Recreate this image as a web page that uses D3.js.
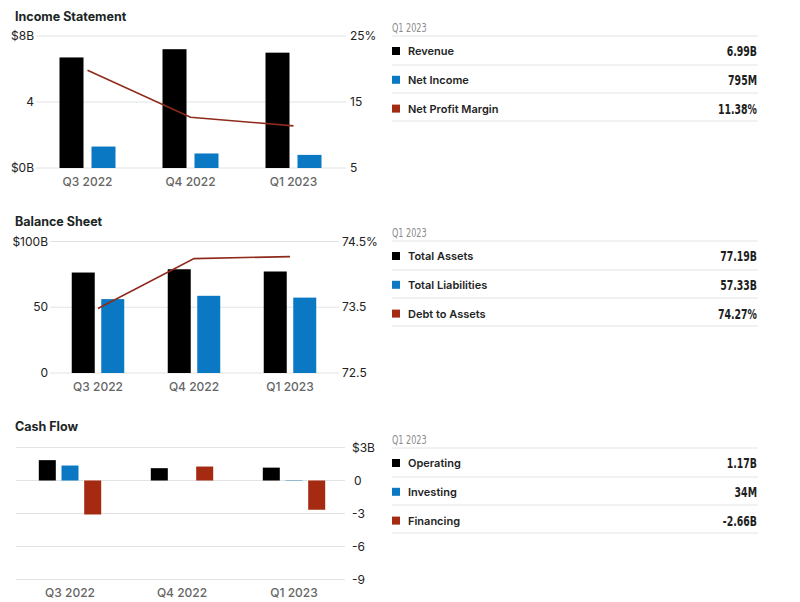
<!DOCTYPE html>
<html><head><meta charset="utf-8">
<script src="https://cdn.jsdelivr.net/npm/d3@7"></script>
<style>
body{margin:0;background:#fff;}
svg{display:block;font-family:Inter,"Liberation Sans",Arial,sans-serif;}
</style></head>
<body><svg id="c" width="800" height="602"></svg>
<script>
const quarters = ["Q3 2022","Q4 2022","Q1 2023"];
// Income statement ($B, %)
const revenue = [6.7, 7.2, 6.99];
const netIncome = [1.3, 0.88, 0.795];
const netProfitMargin = [19.8, 12.7, 11.38];
const incomeLeftTicks = [0,4,8], incomeRightTicks = [5,15,25];
// Balance sheet ($B, %)
const totalAssets = [76.4, 78.9, 77.19];
const totalLiabilities = [56.2, 58.7, 57.33];
const debtToAssets = [73.48, 74.24, 74.27];
const balanceLeftTicks = [0,50,100], balanceRightTicks = [72.5,73.5,74.5];
// Cash flow ($B)
const operating = [1.85, 1.12, 1.17];
const investing = [1.36, 0.0, 0.034];
const financing = [-3.09, 1.27, -2.66];
const cashTicks = [-9,-6,-3,0,3];
// Legend tables (Q1 2023)
const tableHeader = "Q1 2023";
const incomeLegend = [["Revenue","6.99B"],["Net Income","795M"],["Net Profit Margin","11.38%"]];
const balanceLegend = [["Total Assets","77.19B"],["Total Liabilities","57.33B"],["Debt to Assets","74.27%"]];
const cashLegend = [["Operating","1.17B"],["Investing","34M"],["Financing","-2.66B"]];

const C = {black:"#000000", blue:"#0a78c2", red:"#a52a12", line:"#8e2b1c", grid:"#e3e3e3"};
const svg = d3.select("#c");
const narrow = '"DejaVu Sans Condensed","DejaVu Sans",sans-serif';

function title(t, y){
  svg.append("text").attr("x",15).attr("y",y).text(t)
    .attr("font-size",12.5).attr("font-weight",700).attr("fill","#1b2626");
}

function legend(rows, top){
  const g = svg.append("g");
  const x0 = 392, x1 = 758;
  g.append("text").attr("transform",`translate(${x0},${top}) scale(0.72,1)`).text(tableHeader)
    .attr("font-family",narrow).attr("font-size",12.5).attr("fill","#8a8a8a");
  const lineYs = [top+4, top+33, top+61, top+89];
  lineYs.forEach(y=>g.append("line").attr("x1",x0).attr("x2",x1).attr("y1",y).attr("y2",y)
    .attr("stroke","#e3e3e3").attr("stroke-width",1));
  const cols=[C.black,C.blue,C.red];
  rows.forEach((r,i)=>{
    const cy = top + 19 + i*28.8;
    g.append("rect").attr("x",392).attr("y",cy-4).attr("width",8).attr("height",8).attr("fill",cols[i]);
    g.append("text").attr("x",408).attr("y",cy+4).text(r[0])
      .attr("font-size",11).attr("font-weight",600).attr("fill","#1e2424");
    g.append("text").attr("transform",`translate(757,${cy+5}) scale(0.72,1)`).attr("text-anchor","end").text(r[1])
      .attr("font-family",narrow).attr("font-size",14.5).attr("font-weight",600).attr("fill","#1e1e1e");
  });
}

function catAxis(x, y){
  svg.append("g").selectAll("text").data(quarters).join("text")
    .attr("x",d=>x(d)+x.bandwidth()/2).attr("y",y).attr("text-anchor","middle")
    .text(d=>d).attr("font-size",12).attr("font-weight",500).attr("fill","#666");
}

function grid(ys, x1, x2){
  svg.append("g").selectAll("line").data(ys).join("line")
    .attr("x1",x1).attr("x2",x2).attr("y1",d=>d).attr("y2",d=>d)
    .attr("stroke",C.grid).attr("stroke-width",1.2);
}

// ---------- Income statement ----------
title("Income Statement", 21);
{
  const x = d3.scaleBand().domain(quarters).range([36,345]);
  const y = d3.scaleLinear().domain([0,8]).range([168,36]);
  const y2 = d3.scaleLinear().domain([5,25]).range([168,36]);
  grid(incomeLeftTicks.map(y), 36, 346);
  svg.append("g").selectAll("text").data(incomeLeftTicks).join("text")
    .attr("x",34).attr("y",d=>y(d)+4).attr("text-anchor","end")
    .text(d=>d===0?"$0B":d===8?"$8B":d).attr("font-size",12).attr("fill","#222");
  svg.append("g").selectAll("text").data(incomeRightTicks).join("text")
    .attr("x",350).attr("y",d=>y2(d)+4)
    .text(d=>d===25?"25%":d).attr("font-size",12).attr("fill","#222");
  const bw=24, gap=8;
  [[revenue,C.black],[netIncome,C.blue]].forEach(([vals,col],k)=>{
    svg.append("g").selectAll("rect").data(vals).join("rect")
      .attr("x",(d,i)=>x(quarters[i])+x.bandwidth()/2 + (k===0?-(bw+gap/2):gap/2))
      .attr("width",bw).attr("y",d=>y(d)).attr("height",d=>y(0)-y(d)).attr("fill",col);
  });
  svg.append("path").datum(netProfitMargin)
    .attr("d",d3.line().x((d,i)=>x(quarters[i])+x.bandwidth()/2).y(d=>y2(d)))
    .attr("fill","none").attr("stroke",C.line).attr("stroke-width",1.6);
  catAxis(x, 186);
}
legend(incomeLegend, 32);

// ---------- Balance sheet ----------
title("Balance Sheet", 226);
{
  const x = d3.scaleBand().domain(quarters).range([50,338]);
  const y = d3.scaleLinear().domain([0,100]).range([373,241.5]);
  const y2 = d3.scaleLinear().domain([72.5,74.5]).range([373,241.5]);
  grid(balanceLeftTicks.map(y), 50, 339);
  svg.append("g").selectAll("text").data(balanceLeftTicks).join("text")
    .attr("x",48).attr("y",d=>y(d)+4).attr("text-anchor","end")
    .text(d=>d===100?"$100B":d).attr("font-size",12).attr("fill","#222");
  svg.append("g").selectAll("text").data(balanceRightTicks).join("text")
    .attr("x",342).attr("y",d=>y2(d)+4)
    .text(d=>d===74.5?"74.5%":d).attr("font-size",12).attr("fill","#222");
  const bw=23, gap=6.5;
  [[totalAssets,C.black],[totalLiabilities,C.blue]].forEach(([vals,col],k)=>{
    svg.append("g").selectAll("rect").data(vals).join("rect")
      .attr("x",(d,i)=>x(quarters[i])+x.bandwidth()/2 + (k===0?-(bw+gap/2):gap/2))
      .attr("width",bw).attr("y",d=>y(d)).attr("height",d=>y(0)-y(d)).attr("fill",col);
  });
  svg.append("path").datum(debtToAssets)
    .attr("d",d3.line().x((d,i)=>x(quarters[i])+x.bandwidth()/2).y(d=>y2(d)))
    .attr("fill","none").attr("stroke",C.line).attr("stroke-width",1.6);
  catAxis(x, 391);
}
legend(balanceLegend, 237);

// ---------- Cash flow ----------
title("Cash Flow", 431);
{
  const x = d3.scaleBand().domain(quarters).range([14,350]);
  const y = d3.scaleLinear().domain([-9,3]).range([579.5,447.5]);
  grid(cashTicks.map(y), 16, 345);
  svg.append("g").selectAll("text").data(cashTicks).join("text")
    .attr("x",d=>d===0?354:352).attr("y",d=>y(d)+4)
    .text(d=>d===3?"$3B":d).attr("font-size",12).attr("fill","#222");
  const bw=17, step=22.7;
  [[operating,C.black],[investing,C.blue],[financing,C.red]].forEach(([vals,col],k)=>{
    svg.append("g").selectAll("rect").data(vals).join("rect")
      .attr("x",(d,i)=>x(quarters[i])+x.bandwidth()/2 + (k-1)*step - bw/2)
      .attr("width",bw).attr("y",d=>y(Math.max(0,d))).attr("height",d=>Math.abs(y(d)-y(0)))
      .attr("fill",col);
  });
  catAxis(x, 597);
}
legend(cashLegend, 444);
</script></body></html>
